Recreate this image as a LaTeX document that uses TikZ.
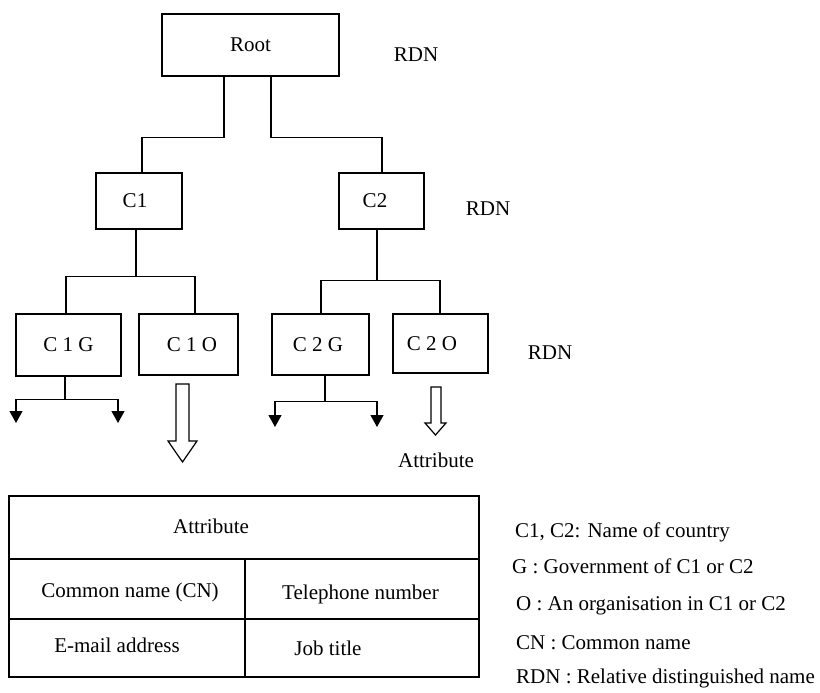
\documentclass[tikz,border=0pt]{standalone}
\usepackage{fontspec}
\setmainfont{Liberation Serif}
\usetikzlibrary{arrows.meta}
\begin{document}
\begin{tikzpicture}[x=1pt,y=-1pt,
  every node/.style={font=\fontsize{21}{24}\selectfont, inner sep=0pt},
  box/.style={draw, line width=1.2pt},
  ln/.style={line width=1.2pt},
  tip/.style={line width=1.2pt, -{Triangle[width=13pt,length=12pt]}},
  hollow/.style={draw, line width=1.2pt, fill=white, line join=miter}]
\useasboundingbox (0,0) rectangle (820,693);
% boxes
\node[box, minimum width=177pt, minimum height=62pt] (root) at (250.5,45) {Root};
\node[box, minimum width=86pt, minimum height=56pt] (c1) at (139,201) {C1\hspace*{8pt}};
\node[box, minimum width=85pt, minimum height=56pt] (c2) at (381.5,201) {C2\hspace*{13pt}};
\node[box, minimum width=105pt, minimum height=62pt] (c1g) at (68.5,345) {C 1 G};
\node[box, minimum width=99pt, minimum height=61pt] (c1o) at (188.5,344.5) {\hspace*{7pt}C 1 O};
\node[box, minimum width=97pt, minimum height=61pt] (c2g) at (320.5,344.5) {C 2 G\hspace*{5pt}};
\node[box, minimum width=95pt, minimum height=59pt] (c2o) at (440.5,343.5) {C 2 O\hspace*{17pt}};
% RDN labels
\node[anchor=base] (rdn1) at (416,62) {RDN};
\node[anchor=base] (rdn2) at (488,215) {RDN};
\node[anchor=base] (rdn3) at (550,359) {RDN};
% tree connectors
\draw[ln] ([xshift=-26.5pt]root.south) -- ++(0,61) -| ([xshift=3pt]c1.north);
\draw[ln] ([xshift=20.5pt]root.south) -- ++(0,61) -| ([xshift=0.5pt]c2.north);
\draw[ln] ([xshift=-3pt]c1.south) -- ++(0,47) coordinate (j1);
\draw[ln] ([xshift=-2.5pt]c1g.north) |- (j1) -| ([xshift=6.5pt]c1o.north);
\draw[ln] ([xshift=-4.5pt]c2.south) -- ++(0,51) coordinate (j2);
\draw[ln] ([xshift=0.5pt]c2g.north) |- (j2) -| ([xshift=-0.5pt]c2o.north);
% leaves
\coordinate (g1l) at (16,423);
\coordinate (g1r) at (118,423);
\coordinate (g2l) at (275,427);
\coordinate (g2r) at (377,427);
\draw[ln] ([xshift=-3.5pt]c1g.south) -- ++(0,23) coordinate (j3);
\draw[tip] (j3) -| (g1l);
\draw[tip] (j3) -| (g1r);
\draw[ln] ([xshift=4.5pt]c2g.south) -- ++(0,26) coordinate (j4);
\draw[tip] (j4) -| (g2l);
\draw[tip] (j4) -| (g2r);
% hollow arrows
\draw[hollow] (176,384) -- (189,384) -- (189,441) -- (197,441) -- (182.5,462) -- (168,441) -- (176,441) -- cycle;
\draw[hollow] (431,387) -- (441,387) -- (441,423) -- (446,423) -- (435.5,435) -- (425,423) -- (431,423) -- cycle;
\node[anchor=base] (attr) at (436,467) {Attribute};
% table
\draw[ln] (9,496) rectangle (479,677);
\draw[ln] (9,559) -- (479,559);
\draw[ln] (9,619) -- (479,619);
\draw[ln] (245,559) -- (245,677);
\node[anchor=base] (tattr) at (211,533) {Attribute};
\node[anchor=base] (tcn) at (130,597) {Common name (CN)};
\node[anchor=base] (ttel) at (360.5,599) {Telephone number};
\node[anchor=base] (tmail) at (117,652) {E-mail address};
\node[anchor=base] (tjob) at (328,655) {Job title};
% legend
\node[anchor=base west] (l1) at (515,537) {C1, C2: Name of country};
\node[anchor=base west] (l2) at (512,573) {G : Government of C1 or C2};
\node[anchor=base west] (l3) at (516,610) {O : An organisation in C1 or C2};
\node[anchor=base west] (l4) at (516,649) {CN : Common name};
\node[anchor=base west] (l5) at (516,683) {RDN : Relative distinguished name};
\end{tikzpicture}
\end{document}
